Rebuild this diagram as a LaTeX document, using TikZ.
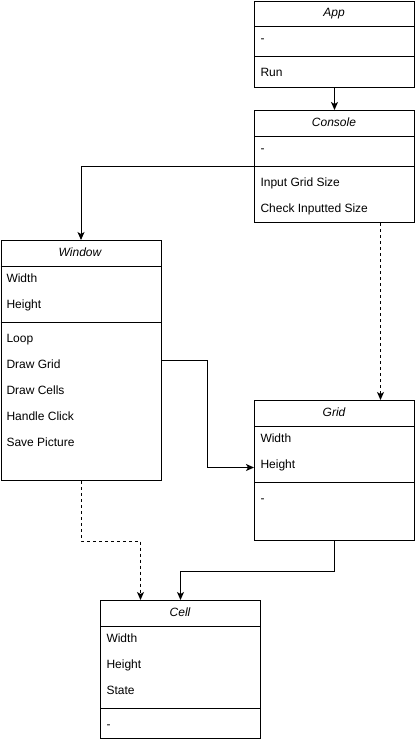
\documentclass[tikz,border=0pt]{standalone}
\usepackage{fontspec}
\setmainfont{Liberation Sans}
\usetikzlibrary{arrows.meta, calc, positioning}

\begin{document}
\begin{tikzpicture}[x=1pt, y=1pt, line width=1pt,
    classbox/.style={draw, inner sep=0pt, minimum width=160pt, anchor=north west},
    head/.style={inner sep=0pt, text height=8.6pt, text depth=2.5pt, font=\fontsize{12}{14}\selectfont\itshape},
    row/.style={anchor=west, inner sep=0pt, text height=8.6pt, text depth=2.5pt, font=\fontsize{12}{14}\selectfont},
    arr/.style={-{Stealth[length=8pt, width=7pt, inset=2pt]}}]
    \useasboundingbox (0,0) rectangle (415,-742);

    % App
    \node[classbox, minimum height=86pt] (app) at (254,-0.5) {};
    \node[head] (app-name) at (334,-13) {App};
    \draw (254,-26) -- ++(160,0);
    \node[row] (app-attr) at (260,-39) {-};
    \draw (254,-56) -- ++(160,0);
    \node[row] (app-run) at (260,-73) {Run};

    % Console
    \node[classbox, minimum height=112pt] (console) at (254,-110) {};
    \node[head] (console-name) at (334,-123) {Console};
    \draw (254,-136) -- ++(160,0);
    \node[row] (console-attr) at (260,-149) {-};
    \draw (254,-166) -- ++(160,0);
    \node[row] (console-input) at (260,-183) {Input Grid Size};
    \node[row] (console-check) at (260,-209) {Check Inputted Size};

    % Window
    \node[classbox, minimum height=240pt] (window) at (0.5,-240) {};
    \node[head] (window-name) at (80,-253) {Window};
    \draw (0.5,-266) -- ++(160,0);
    \node[row] (window-width) at (6,-279) {Width};
    \node[row] (window-height) at (6,-305) {Height};
    \draw (0.5,-322) -- ++(160,0);
    \node[row] (window-loop) at (6,-339) {Loop};
    \node[row] (window-grid) at (6,-365) {Draw Grid};
    \node[row] (window-cells) at (6,-391) {Draw Cells};
    \node[row] (window-click) at (6,-417) {Handle Click};
    \node[row] (window-save) at (6,-443) {Save Picture};

    % Grid
    \node[classbox, minimum height=140pt] (grid) at (254,-400) {};
    \node[head] (grid-name) at (334,-413) {Grid};
    \draw (254,-426) -- ++(160,0);
    \node[row] (grid-width) at (260,-439) {Width};
    \node[row] (grid-height) at (260,-465) {Height};
    \draw (254,-482) -- ++(160,0);
    \node[row] (grid-attr) at (260,-499) {-};

    % Cell
    \node[classbox, minimum height=138pt] (cell) at (100,-600) {};
    \node[head] (cell-name) at (180,-613) {Cell};
    \draw (100,-626) -- ++(160,0);
    \node[row] (cell-width) at (106,-639) {Width};
    \node[row] (cell-height) at (106,-665) {Height};
    \node[row] (cell-state) at (106,-691) {State};
    \draw (100,-708) -- ++(160,0);
    \node[row] (cell-attr) at (106,-725) {-};

    % connectors
    \draw[arr] (app) -- (console);
    \draw[arr] (console.west) -| (window.north);
    \draw[arr, dashed] ([xshift=46pt]console.south) -- ([xshift=46pt]grid.north);
    \draw[arr] (window.east) -| ($(window.east)!0.5!(grid.west)$) |- ([yshift=3pt]grid.west);
    \draw[arr, dashed] (window.south) -- ++(0,-60) -| ([xshift=-40pt]cell.north);
    \draw[arr] (grid.south) -- ++(0,-30) -| (cell.north);
\end{tikzpicture}
\end{document}
